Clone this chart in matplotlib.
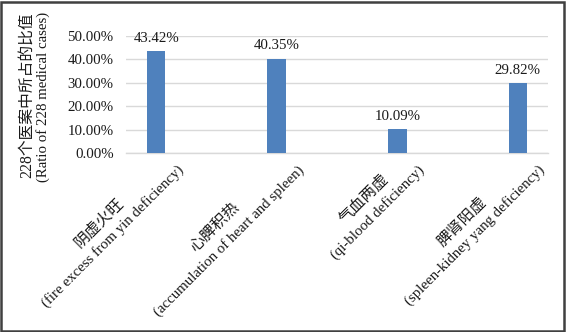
import matplotlib
matplotlib.use("Agg")
import matplotlib.pyplot as plt
from matplotlib.patches import Rectangle

categories_cn = ["阴虚火旺", "心脾积热", "气血两虚", "脾肾阳虚"]
categories_en = [
    "(fire excess from yin deficiency)",
    "(accumulation of heart and spleen)",
    "(qi-blood deficiency)",
    "(spleen-kidney yang deficiency)",
]
ratios = [0.4342, 0.4035, 0.1009, 0.2982]
yticks = [0.0, 0.1, 0.2, 0.3, 0.4, 0.5]
ylabel_cn = "228个医案中所占的比值"
ylabel_en = "(Ratio of 228 medical cases)"

plt.rcParams["font.family"] = ["Liberation Serif", "Noto Sans CJK SC", "DejaVu Sans"]
TXT = "#1a1a1a"
FS = 10.7      # latin text
FS_CN = 11.3   # chinese text

W, H = 566, 332
fig = plt.figure(figsize=(W / 100, H / 100), dpi=100)
ax = fig.add_axes([126 / W, 1 - 153 / H, (548 - 126) / W, (153 - 36) / H])

x = list(range(len(ratios)))
bars = ax.bar(x, ratios, width=0.155, color="#4f81bd", zorder=3)

for b, v in zip(bars, ratios):
    ax.annotate(f"{v * 100:.2f}%", (b.get_x() + b.get_width() / 2, v),
                xytext=(0, 4.5), textcoords="offset points",
                ha="center", va="bottom", fontsize=FS, color=TXT)

ax.set_xlim(-0.25, 3.25)
ax.set_ylim(0, 0.5)
ax.set_yticks(yticks)
ax.set_yticklabels([f"{t * 100:.2f}%" for t in yticks], fontsize=FS, color=TXT)
ax.yaxis.grid(True, color="#d9d9d9", linewidth=1.0, zorder=0)
ax.tick_params(axis="both", length=0)
ax.tick_params(axis="y", pad=9)
ax.set_xticks(x)
ax.set_xticklabels([])
for s in ["top", "right", "left"]:
    ax.spines[s].set_visible(False)
ax.spines["bottom"].set_color("#d9d9d9")
ax.spines["bottom"].set_linewidth(1.0)

# rotated category labels: english line ends just right of the tick,
# chinese line centred above it
fig.canvas.draw()
rend = fig.canvas.get_renderer()
c45 = 0.7071
for i, (cn, en) in enumerate(zip(categories_cn, categories_en)):
    px, py = ax.transData.transform((i, 0))
    probe = fig.text(0, 0, en, fontsize=FS)
    w = probe.get_window_extent(rend).width
    probe.remove()
    ex, ey = px + 25, py - 15
    cx, cy = ex - w / 2 * c45, ey - w / 2 * c45
    fig.text(cx / W, cy / H, en, rotation=45, rotation_mode="anchor",
             ha="center", va="center", fontsize=FS, color=TXT)
    fig.text((cx - 13.5) / W, (cy + 13.5) / H, cn, rotation=45,
             rotation_mode="anchor", ha="center", va="center",
             fontsize=FS_CN, color=TXT)

fig.text(27 / W, 1 - 95 / H, ylabel_cn, rotation=90, ha="center", va="center",
         fontsize=FS_CN, color=TXT)
fig.text(43 / W, 1 - 97 / H, ylabel_en, rotation=90, ha="center", va="center",
         fontsize=FS, color=TXT)

fig.patches.append(Rectangle((1 / W, 1 / H), (564 - 1) / W, (330 - 1) / H,
                             transform=fig.transFigure, fill=False,
                             edgecolor="#404040", linewidth=1.8))

fig.savefig("out.png", dpi=100)
